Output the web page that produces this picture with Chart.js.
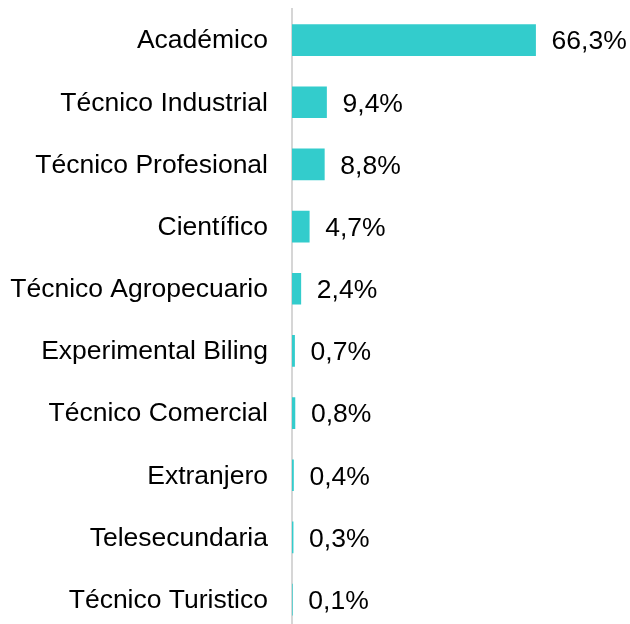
<!DOCTYPE html>
<html>
<head>
<meta charset="utf-8">
<script src="https://cdn.jsdelivr.net/npm/chart.js@4/dist/chart.umd.min.js"></script>
<style>
html,body{margin:0;padding:0;background:#fff;overflow:hidden;}
#wrap{position:absolute;left:0;top:0;width:630px;height:632px;}
</style>
</head>
<body>
<div id="wrap"><canvas id="c" width="630" height="632"></canvas></div>
<script>
const categories = ["Académico","Técnico Industrial","Técnico Profesional","Científico","Técnico Agropecuario","Experimental Biling","Técnico Comercial","Extranjero","Telesecundaria","Técnico Turistico"];
const values = [66.3, 9.4, 8.8, 4.7, 2.4, 0.7, 0.8, 0.4, 0.3, 0.1];

const FONT = "'Liberation Sans', Arial, sans-serif";
const FONT_SIZE = 26.5;

const valueLabels = {
  id: 'valueLabels',
  afterDatasetsDraw(chart) {
    const ctx = chart.ctx;
    const meta = chart.getDatasetMeta(0);
    ctx.save();
    ctx.font = FONT_SIZE + "px " + FONT;
    ctx.fillStyle = "#000";
    ctx.textAlign = "left";
    ctx.textBaseline = "middle";
    meta.data.forEach((bar, i) => {
      const txt = values[i].toFixed(1).replace('.', ',') + '%';
      ctx.fillText(txt, bar.x + 16, bar.y + 2);
    });
    ctx.restore();
  }
};

new Chart(document.getElementById('c'), {
  type: 'bar',
  data: {
    labels: categories,
    datasets: [{
      data: values,
      backgroundColor: '#33CCCC',
      borderWidth: 0,
      barThickness: 31
    }]
  },
  options: {
    indexAxis: 'y',
    responsive: false,
    animation: false,
    layout: { padding: { top: 9, right: 0, bottom: 0, left: 0 } },
    plugins: { legend: { display: false }, tooltip: { enabled: false } },
    scales: {
      x: { display: false, min: 0, max: 92 },
      y: {
        afterFit(scale) { scale.width = 292; },
        grid: { display: false, drawTicks: true, tickLength: 24 },
        border: { display: true, color: '#d6d6d6', width: 2 },
        ticks: { color: '#000', font: { size: FONT_SIZE, family: FONT, lineHeight: 0.1 }, padding: 0, labelOffset: 1 }
      }
    }
  },
  plugins: [valueLabels]
});
</script>
</body>
</html>
